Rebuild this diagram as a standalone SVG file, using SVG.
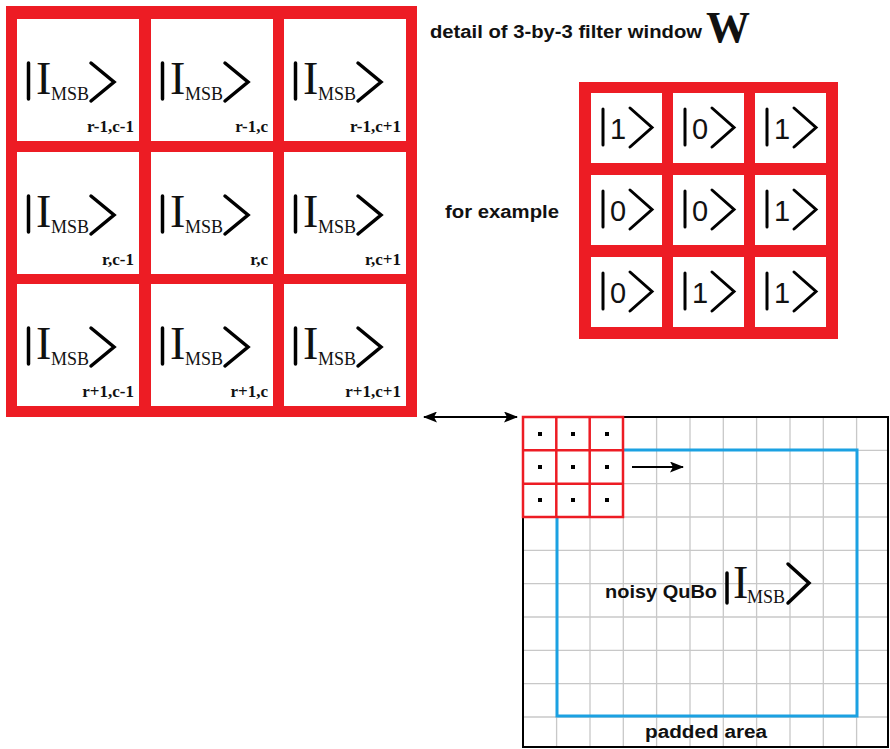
<svg xmlns="http://www.w3.org/2000/svg" width="890" height="749" viewBox="0 0 890 749">
<style>
.red{fill:#ed1c24}
.cell{fill:#fff}
.ket{fill:none;stroke:#000;stroke-width:3.5;stroke-linecap:round;stroke-linejoin:miter}
.ket2{fill:none;stroke:#000;stroke-width:3;stroke-linecap:round}
.I{font-family:"Liberation Serif",serif;font-size:46px;fill:#111}
.sub{font-family:"Liberation Serif",serif;font-size:18px;fill:#111}
.lbl{font-family:"Liberation Serif",serif;font-size:17px;font-weight:bold;fill:#111;text-anchor:end}
.dig{font-family:"Liberation Sans",sans-serif;font-size:29px;fill:#111}
.cap{font-family:"Liberation Sans",sans-serif;font-size:18px;font-weight:bold;fill:#111}
.grid{stroke:#c8c8c8;stroke-width:1.3}
.win{fill:#fff;stroke:#ed1c24;stroke-width:2.5}
.conn{stroke:#000;stroke-width:2;fill:none}
</style>
<defs>
<marker id="ah" viewBox="0 0 14 11" refX="13" refY="5.5" markerWidth="14" markerHeight="11" markerUnits="userSpaceOnUse" orient="auto-start-reverse">
<path d="M0,0 L14,5.5 L0,11 L3,5.5 Z" fill="#000"/>
</marker>
<g id="bigket">
<rect class="cell" x="0" y="0" width="122" height="122"/>
<line class="ket" x1="11.5" y1="44" x2="11.5" y2="80"/>
<text class="I" x="19" y="75">I</text>
<text class="sub" x="34" y="81">MSB</text>
<polyline class="ket" points="74,44 97,63 74,82"/>
</g>
<g id="smallket">
<rect class="cell" x="0" y="0" width="71" height="70"/>
<line class="ket2" x1="12" y1="16" x2="12" y2="52"/>
<polyline class="ket2" points="39,15 61,34.5 39,54"/>
</g>
</defs>

<g id="detail-window">
<rect class="red" x="6" y="6" width="411" height="411"/>
<g id="cell-r-1-c-1" transform="translate(17,19)"><use href="#bigket"/><text class="lbl" x="117" y="113">r-1,c-1</text></g>
<g id="cell-r-1-c" transform="translate(151,19)"><use href="#bigket"/><text class="lbl" x="117" y="113">r-1,c</text></g>
<g id="cell-r-1-c+1" transform="translate(284,19)"><use href="#bigket"/><text class="lbl" x="117" y="113">r-1,c+1</text></g>
<g id="cell-r-c-1" transform="translate(17,152)"><use href="#bigket"/><text class="lbl" x="117" y="113">r,c-1</text></g>
<g id="cell-r-c" transform="translate(151,152)"><use href="#bigket"/><text class="lbl" x="117" y="113">r,c</text></g>
<g id="cell-r-c+1" transform="translate(284,152)"><use href="#bigket"/><text class="lbl" x="117" y="113">r,c+1</text></g>
<g id="cell-r+1-c-1" transform="translate(17,284)"><use href="#bigket"/><text class="lbl" x="117" y="113">r+1,c-1</text></g>
<g id="cell-r+1-c" transform="translate(151,284)"><use href="#bigket"/><text class="lbl" x="117" y="113">r+1,c</text></g>
<g id="cell-r+1-c+1" transform="translate(284,284)"><use href="#bigket"/><text class="lbl" x="117" y="113">r+1,c+1</text></g>
</g>

<g id="title">
<text class="cap" x="430" y="38" textLength="272" lengthAdjust="spacingAndGlyphs">detail of 3-by-3 filter window</text>
<text x="706" y="42" font-family="'Liberation Serif',serif" font-size="44" font-weight="bold" fill="#111">W</text>
</g>

<g id="for-example">
<text class="cap" x="445" y="218" textLength="114" lengthAdjust="spacingAndGlyphs">for example</text>
</g>

<g id="example-window">
<rect class="red" x="579" y="82" width="259" height="257"/>
<g id="ex-1-1" transform="translate(591,93)"><use href="#smallket"/><text class="dig" x="19" y="46">1</text></g>
<g id="ex-1-2" transform="translate(673,93)"><use href="#smallket"/><text class="dig" x="19" y="46">0</text></g>
<g id="ex-1-3" transform="translate(755,93)"><use href="#smallket"/><text class="dig" x="19" y="46">1</text></g>
<g id="ex-2-1" transform="translate(591,175)"><use href="#smallket"/><text class="dig" x="19" y="46">0</text></g>
<g id="ex-2-2" transform="translate(673,175)"><use href="#smallket"/><text class="dig" x="19" y="46">0</text></g>
<g id="ex-2-3" transform="translate(755,175)"><use href="#smallket"/><text class="dig" x="19" y="46">1</text></g>
<g id="ex-3-1" transform="translate(591,257)"><use href="#smallket"/><text class="dig" x="19" y="46">0</text></g>
<g id="ex-3-2" transform="translate(673,257)"><use href="#smallket"/><text class="dig" x="19" y="46">1</text></g>
<g id="ex-3-3" transform="translate(755,257)"><use href="#smallket"/><text class="dig" x="19" y="46">1</text></g>
</g>

<g id="image-grid">
<g class="grid">
<line x1="556.6" y1="417" x2="556.6" y2="747"/>
<line x1="590" y1="417" x2="590" y2="747"/>
<line x1="623.3" y1="417" x2="623.3" y2="747"/>
<line x1="656.6" y1="417" x2="656.6" y2="747"/>
<line x1="690" y1="417" x2="690" y2="747"/>
<line x1="723.3" y1="417" x2="723.3" y2="747"/>
<line x1="756.6" y1="417" x2="756.6" y2="747"/>
<line x1="790" y1="417" x2="790" y2="747"/>
<line x1="823.3" y1="417" x2="823.3" y2="747"/>
<line x1="856.6" y1="417" x2="856.6" y2="747"/>
<line x1="523" y1="450.3" x2="888" y2="450.3"/>
<line x1="523" y1="483.6" x2="888" y2="483.6"/>
<line x1="523" y1="517" x2="888" y2="517"/>
<line x1="523" y1="550.3" x2="888" y2="550.3"/>
<line x1="523" y1="583.6" x2="888" y2="583.6"/>
<line x1="523" y1="617" x2="888" y2="617"/>
<line x1="523" y1="650.3" x2="888" y2="650.3"/>
<line x1="523" y1="683.6" x2="888" y2="683.6"/>
<line x1="523" y1="717" x2="888" y2="717"/>
</g>
<rect x="523" y="417" width="365" height="330" fill="none" stroke="#000" stroke-width="2"/>
</g>

<g id="padded-boundary">
<rect x="557" y="450" width="300" height="266" fill="none" stroke="#1ba1e2" stroke-width="3"/>
</g>

<g id="sliding-window">
<rect class="win" x="523" y="417" width="100" height="100"/>
<line x1="556.3" y1="417" x2="556.3" y2="517" stroke="#ed1c24" stroke-width="2.5"/>
<line x1="589.7" y1="417" x2="589.7" y2="517" stroke="#ed1c24" stroke-width="2.5"/>
<line x1="523" y1="450.3" x2="623" y2="450.3" stroke="#ed1c24" stroke-width="2.5"/>
<line x1="523" y1="483.7" x2="623" y2="483.7" stroke="#ed1c24" stroke-width="2.5"/>
<g fill="#000">
<rect x="538" y="432" width="4" height="4"/><rect x="571" y="432" width="4" height="4"/><rect x="605" y="432" width="4" height="4"/>
<rect x="538" y="465" width="4" height="4"/><rect x="571" y="465" width="4" height="4"/><rect x="605" y="465" width="4" height="4"/>
<rect x="538" y="498" width="4" height="4"/><rect x="571" y="498" width="4" height="4"/><rect x="605" y="498" width="4" height="4"/>
</g>
</g>

<g id="noisy-label">
<text class="cap" x="605" y="598" textLength="112" lengthAdjust="spacingAndGlyphs">noisy QuBo</text>
<line class="ket" x1="727" y1="573" x2="727" y2="603"/>
<text class="I" x="733" y="598" font-size="40">I</text>
<text class="sub" x="747" y="603">MSB</text>
<polyline class="ket" points="788,564 809,583 788,603"/>
</g>

<g id="padded-label">
<text class="cap" x="645" y="738" textLength="122" lengthAdjust="spacingAndGlyphs">padded area</text>
</g>

<g id="connectors">
<line class="conn" x1="424" y1="417" x2="517" y2="417" marker-start="url(#ah)" marker-end="url(#ah)"/>
<line class="conn" x1="632" y1="467" x2="683" y2="467" marker-end="url(#ah)"/>
</g>
</svg>
